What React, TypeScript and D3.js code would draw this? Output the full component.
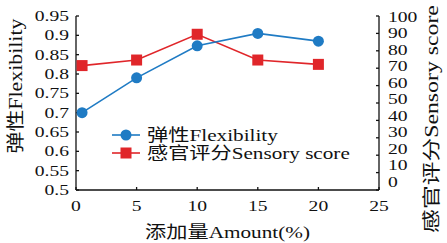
import React, { useEffect, useRef } from "react";
import * as d3 from "d3";

// values
const amounts = [0.5, 5, 10, 15, 20];
const flexibility = [0.7, 0.79, 0.873, 0.905, 0.885];
const sensory = [71.5, 74.7, 89.5, 74.7, 72.2];

const xTicks = [0, 5, 10, 15, 20, 25];
const leftTicks = [0.5, 0.55, 0.6, 0.65, 0.7, 0.75, 0.8, 0.85, 0.9, 0.95];
const rightTicks = [0, 10, 20, 30, 40, 50, 60, 70, 80, 90, 100];

const seriesNames = ["弹性Flexibility", "感官评分Sensory score"];
const xTitle = "添加量Amount(%)";
const leftTitle = "弹性Flexibility";
const rightTitle = "感官评分Sensory score";

const BLUE = "#1f7bc4";
const RED = "#e0262a";
const FONT = "'Liberation Serif', 'Times New Roman', 'Noto Sans CJK SC', serif";

export default function App() {
  const svgRef = useRef<SVGSVGElement>(null);

  useEffect(() => {
    const width = 447;
    const height = 243;
    const margin = { top: 16, right: 68, bottom: 53, left: 76 };

    const svg = d3.select(svgRef.current).attr("width", width).attr("height", height);
    svg.selectAll("*").remove();

    const x = d3
      .scaleLinear()
      .domain([0, 25])
      .range([margin.left, width - margin.right]);
    const yL = d3
      .scaleLinear()
      .domain([0.5, 0.95])
      .range([height - margin.bottom, margin.top]);
    const yR = d3
      .scaleLinear()
      .domain([0, 100])
      .range([height - margin.bottom, margin.top]);
    // right labels sit a little tighter than their ticks in the reference
    const yRLabel = d3
      .scaleLinear()
      .domain([0, 100])
      .range([height - margin.bottom - 8, margin.top + 1]);

    const bottom = height - margin.bottom;
    const left = margin.left;
    const right = width - margin.right;

    // tick labels: short, wide serif digits
    const addTick = (g: any, tx: number, ty: number, txt: string, anchor: string, dy = "0") =>
      g
        .append("text")
        .attr("transform", `translate(${tx},${ty}) scale(1.4,1)`)
        .attr("text-anchor", anchor)
        .attr("dy", dy)
        .style("font-family", FONT)
        .style("font-size", "14px")
        .attr("fill", "#111")
        .text(txt);

    // labels stretched to the width they take in the reference
    const addLabel = (
      g: any,
      place: string,
      txt: string,
      size: number,
      len: number,
      anchor: string,
      baseline = "auto"
    ) => {
      const t = g
        .append("text")
        .attr("text-anchor", anchor)
        .attr("dominant-baseline", baseline)
        .style("font-family", FONT)
        .style("font-size", size + "px")
        .attr("fill", "#111")
        .text(txt);
      const natural = (t.node() as SVGTextElement).getComputedTextLength() || len;
      t.attr("transform", `${place} scale(${len / natural},1)`);
      return t;
    };

    const axes = svg.append("g").attr("stroke", "#111").attr("stroke-width", 1.3);

    // axis lines
    axes.append("line").attr("x1", left).attr("x2", left).attr("y1", margin.top).attr("y2", bottom);
    axes.append("line").attr("x1", right).attr("x2", right).attr("y1", margin.top).attr("y2", bottom);
    axes.append("line").attr("x1", left).attr("x2", right).attr("y1", bottom).attr("y2", bottom);

    // inward ticks
    axes
      .selectAll(".lt")
      .data(leftTicks)
      .enter()
      .append("line")
      .attr("x1", left)
      .attr("x2", left + 3)
      .attr("y1", (d) => yL(d))
      .attr("y2", (d) => yL(d));
    axes
      .selectAll(".rt")
      .data(rightTicks)
      .enter()
      .append("line")
      .attr("x1", right)
      .attr("x2", right - 3)
      .attr("y1", (d) => yR(d))
      .attr("y2", (d) => yR(d));
    axes
      .selectAll(".bt")
      .data(xTicks)
      .enter()
      .append("line")
      .attr("x1", (d) => x(d))
      .attr("x2", (d) => x(d))
      .attr("y1", bottom)
      .attr("y2", bottom - 3);

    const labels = svg.append("g");
    leftTicks.forEach((d) => addTick(labels, left - 7, yL(d), String(d), "end", "0.35em"));
    rightTicks.forEach((d) => addTick(labels, right + 9, yRLabel(d), String(d), "start", "0.35em"));
    xTicks.forEach((d) => addTick(labels, x(d), bottom + 21, String(d), "middle"));

    // titles
    addLabel(labels, `translate(${(left + right) / 2},238)`, xTitle, 17, 165, "middle");
    addLabel(labels, "translate(16,86) rotate(-90)", leftTitle, 18, 135, "middle", "central");
    addLabel(labels, "translate(432,119) rotate(-90)", rightTitle, 18, 228, "middle", "central");

    // series
    const flexLine = d3
      .line<number>()
      .x((d, i) => x(amounts[i]))
      .y((d) => yL(d));
    const sensLine = d3
      .line<number>()
      .x((d, i) => x(amounts[i]))
      .y((d) => yR(d));

    svg
      .append("path")
      .datum(sensory)
      .attr("fill", "none")
      .attr("stroke", RED)
      .attr("stroke-width", 1.6)
      .attr("d", sensLine);
    svg
      .selectAll(".sq")
      .data(sensory)
      .enter()
      .append("rect")
      .attr("x", (d, i) => x(amounts[i]) - 5.5)
      .attr("y", (d) => yR(d) - 5.5)
      .attr("width", 11)
      .attr("height", 11)
      .attr("fill", RED);

    svg
      .append("path")
      .datum(flexibility)
      .attr("fill", "none")
      .attr("stroke", BLUE)
      .attr("stroke-width", 1.6)
      .attr("d", flexLine);
    svg
      .selectAll(".dot")
      .data(flexibility)
      .enter()
      .append("circle")
      .attr("cx", (d, i) => x(amounts[i]))
      .attr("cy", (d) => yL(d))
      .attr("r", 5.5)
      .attr("fill", BLUE);

    // legend
    const legendWidths = [131, 203];
    const legend = svg.append("g");
    seriesNames.forEach((name, i) => {
      const ly = 135 + i * 18;
      const color = i === 0 ? BLUE : RED;
      legend
        .append("line")
        .attr("x1", 112)
        .attr("x2", 140)
        .attr("y1", ly)
        .attr("y2", ly)
        .attr("stroke", color)
        .attr("stroke-width", 1.6);
      if (i === 0) {
        legend.append("circle").attr("cx", 126).attr("cy", ly).attr("r", 5.5).attr("fill", color);
      } else {
        legend
          .append("rect")
          .attr("x", 120.5)
          .attr("y", ly - 5.5)
          .attr("width", 11)
          .attr("height", 11)
          .attr("fill", color);
      }
      addLabel(legend, `translate(147,${ly})`, name, 17, legendWidths[i], "start", "central");
    });
  }, []);

  return (
    <div style={{ position: "absolute", left: 0, top: 0 }}>
      <svg ref={svgRef} style={{ display: "block", background: "#fff" }}></svg>
    </div>
  );
}
